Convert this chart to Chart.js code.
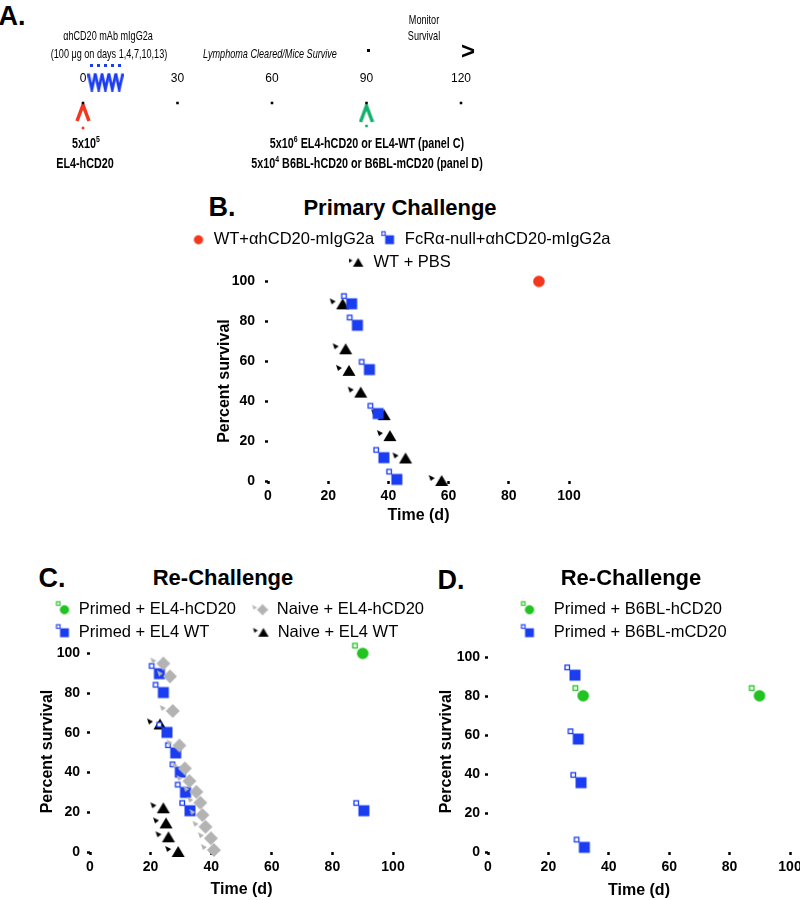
<!DOCTYPE html>
<html>
<head>
<meta charset="utf-8">
<title>Anti-hCD20 mIgG2a: primary challenge and re-challenge survival</title>
<script src="https://cdn.jsdelivr.net/npm/chart.js"></script>
<style>
body { margin: 0; width: 800px; height: 900px; position: relative; overflow: hidden; background: #fff;
  font-family: "Liberation Sans", Arial, sans-serif; color: #000; }
canvas { position: absolute; }
.t { position: absolute; white-space: nowrap; line-height: 1; transform: translate(-50%, -50%); }
.n { font-size: 13px; transform: translate(-50%, -50%) scaleX(0.7); }
.nb { font-size: 14px; font-weight: bold; transform: translate(-50%, -50%) scaleX(0.77); }
.nb sup { font-size: 9px; line-height: 0; }
.p { font-size: 27px; font-weight: bold; }
.h { font-size: 22px; font-weight: bold; }
</style>
</head>
<body>
<canvas id="timeline" width="800" height="100" style="left:0;top:40px"></canvas>
<canvas id="primary" width="460" height="310" style="left:170px;top:225px"></canvas>
<canvas id="rechEL4" width="400" height="305" style="left:38px;top:595px"></canvas>
<canvas id="rechB6" width="400" height="305" style="left:437px;top:595px"></canvas>

<div class="t p" style="left:12px;top:16px">A.</div>
<div class="t n" style="left:108px;top:35px">αhCD20 mAb mIgG2a</div>
<div class="t n" style="left:109px;top:53px">(100 μg on days 1,4,7,10,13)</div>
<div class="t n" style="left:270px;top:53px;font-style:italic">Lymphoma Cleared/Mice Survive</div>
<div class="t n" style="left:424px;top:19px">Monitor</div>
<div class="t n" style="left:424px;top:35px">Survival</div>
<div class="t" style="left:468px;top:51px;font-size:24px;font-weight:900">&gt;</div>
<div class="t nb" style="left:86px;top:143px">5x10<sup>5</sup></div>
<div class="t nb" style="left:85px;top:163px">EL4-hCD20</div>
<div class="t nb" style="left:367px;top:143px">5x10<sup>6</sup> EL4-hCD20 or EL4-WT (panel C)</div>
<div class="t nb" style="left:367px;top:163px">5x10<sup>4</sup> B6BL-hCD20 or B6BL-mCD20 (panel D)</div>

<div class="t p" style="left:222px;top:207px">B.</div>
<div class="t h" style="left:400px;top:208px">Primary Challenge</div>
<div class="t p" style="left:52px;top:578px">C.</div>
<div class="t h" style="left:223px;top:578px">Re-Challenge</div>
<div class="t p" style="left:451px;top:580px">D.</div>
<div class="t h" style="left:631px;top:578px">Re-Challenge</div>

<script>
// A. timeline, in days (injection marks as drawn, squeezed together in the figure)
var timelineTicks = [0, 30, 60, 90, 120];
var injectionMarks = [2.8, 5, 7.1, 9.3, 11.5];
var challengeDay = [0];
var rechallengeDay = [90];
var monitorDay = [90.5];

// B-D share the same axes
var survTicks = [0, 20, 40, 60, 80, 100];

// B. primary challenge (time in days, percent survival)
var bWtMabX = [90];
var bWtMabY = [100];
var bNullMabX = [27.8, 29.7, 33.7, 36.6, 38.5, 42.8];
var bNullMabY = [88.8, 78, 55.8, 33.8, 11.7, 0.8];
var bPbsX = [24.8, 25.8, 26.9, 30.8, 38.6, 40.5, 45.7, 57.7];
var bPbsY = [88.5, 66, 55.2, 44.3, 33, 22.5, 11.3, 0];

// C. re-challenge with EL4
var cPrimedHX = [90];
var cPrimedHY = [100];
var cNaiveHX = [24.2, 26.4, 27.3, 29.5, 31.3, 32.8, 35.1, 36.4, 37.1, 38.1, 39.9, 40.9];
var cNaiveHY = [94.9, 88.4, 71, 53.6, 42.1, 35.7, 30.3, 24.8, 18.6, 12.7, 6.9, 1];
var cPrimedWtX = [22.9, 24.2, 25.4, 28.3, 29.8, 31.5, 33, 90.4];
var cPrimedWtY = [89.8, 80.3, 60.2, 49.9, 40.2, 30, 20.8, 20.8];
var cNaiveWtX = [23.1, 24.2, 25.1, 25.9, 29.1];
var cNaiveWtY = [64.2, 22, 14.4, 7.4, 0];

// D. re-challenge with B6BL
var dPrimedHX = [31.5, 89.9];
var dPrimedHY = [80.2, 80.2];
var dPrimedMX = [28.8, 29.9, 30.8, 31.9];
var dPrimedMY = [90.8, 58, 35.6, 2.4];

var blue = '#1b3df2', red = '#f3361c', green = '#21c321', grey = '#b3b3b3', teal = '#12b06c';

Chart.defaults.font.family = '"Liberation Sans", Arial, sans-serif';
Chart.defaults.color = '#000';

// markers are little bitmaps so the stray bits from the exported figure come along
function mark(shape, color, tag) {
  var c = document.createElement('canvas');
  c.width = 32; c.height = 32;
  var g = c.getContext('2d');
  g.translate(16, 16);
  g.fillStyle = color; g.strokeStyle = color;
  g.beginPath();
  if (shape === 'square') g.rect(-5.5, -5.5, 11, 11);
  if (shape === 'circle') g.arc(0, 0, 5.8, 0, Math.PI * 2);
  if (shape === 'triangle') { g.moveTo(0, -6); g.lineTo(6.5, 5); g.lineTo(-6.5, 5); g.closePath(); }
  if (shape === 'diamond') { g.moveTo(0, -7); g.lineTo(7, 0); g.lineTo(0, 7); g.lineTo(-7, 0); g.closePath(); }
  g.fill();
  if (tag === 'box') {
    g.lineWidth = 1.3; g.fillStyle = '#fff';
    g.fillRect(-10, -10, 4.5, 4.5); g.strokeRect(-10, -10, 4.5, 4.5);
  }
  if (tag === 'wedge') {
    g.beginPath(); g.moveTo(-13, -6); g.lineTo(-7, -3); g.lineTo(-11, 0); g.closePath(); g.fill();
  }
  return c;
}

function chevron(color, up) {
  var c = document.createElement('canvas');
  c.width = up ? 16 : 9; c.height = 20;
  var g = c.getContext('2d');
  g.strokeStyle = color; g.lineWidth = up ? 3.5 : 2.8;
  g.beginPath();
  if (up) { g.moveTo(2, 18); g.lineTo(8, 2); g.lineTo(14, 18); }
  else { g.moveTo(1, 2); g.lineTo(4.5, 18); g.lineTo(8, 2); }
  g.stroke();
  return c;
}

// small solid block (image so it still draws above the plot area)
function blob(color, w, h) {
  var c = document.createElement('canvas');
  c.width = w; c.height = h;
  var g = c.getContext('2d');
  g.fillStyle = color; g.fillRect(0, 0, w, h);
  return c;
}

// legend swatch: a box of the legend width, marker shrunk a little and placed inside it
function keyIcon(img, boxW, at) {
  var c = document.createElement('canvas');
  var w = img.width * 0.8, h = img.height * 0.8;
  c.width = boxW; c.height = img.height;
  c.getContext('2d').drawImage(img, at - w / 2, (img.height - h) / 2, w, h);
  return c;
}

var sqBlue = mark('square', blue, 'box');
var dotRed = mark('circle', red, null);
var dotGreen = mark('circle', green, 'box');
var triBlack = mark('triangle', '#000', 'wedge');
var diaGrey = mark('diamond', grey, 'wedge');

function pts(xs, ys) {
  return xs.map(function (x, i) { return { x: x, y: ys[i] }; });
}

function series(label, xs, ys, img) {
  return { label: label, data: pts(xs, ys), pointStyle: img, pointRadius: 6, clip: false };
}

function useTicks(vals) {
  return function (s) { s.ticks = vals.map(function (v) { return { value: v }; }); };
}

function survivalChart(id, sets, lay) {
  var labels = {
    usePointStyle: true, pointStyleWidth: lay.keyW, padding: 6.5, color: '#000', font: { size: 16.5 },
    generateLabels: function (chart) {
      var items = Chart.defaults.plugins.legend.labels.generateLabels(chart);
      items.forEach(function (it, i) { it.pointStyle = keyIcon(sets[i].pointStyle, lay.keyW, lay.keyAt); });
      return items;
    }
  };
  function grid() { return { drawOnChartArea: false, tickLength: 3, tickWidth: 2.5, color: '#000' }; }
  return new Chart(document.getElementById(id), {
    type: 'scatter',
    data: { datasets: sets },
    options: {
      responsive: false,
      animation: false,
      events: [],
      plugins: {
        tooltip: { enabled: false },
        legend: { align: lay.align, labels: labels }
      },
      scales: {
        x: {
          min: 0, max: 100,
          afterBuildTicks: useTicks(survTicks),
          afterFit: function (s) { s.height = lay.xH; s.paddingRight = lay.padR; },
          grid: grid(), border: { display: false },
          ticks: { padding: 4, color: '#000', font: { size: 14, weight: 'bold' } },
          title: { display: true, text: 'Time (d)', color: '#000', font: { size: 16, weight: 'bold' },
                   padding: { top: 0, bottom: lay.xTitle } }
        },
        y: {
          // a little headroom above 100 leaves the gap under the legend
          min: 0, max: lay.yMax,
          afterBuildTicks: useTicks(survTicks),
          afterFit: function (s) { s.width = lay.yW; },
          grid: grid(), border: { display: false },
          ticks: { padding: lay.yPad, color: '#000', font: { size: 14, weight: 'bold' } },
          title: { display: true, text: 'Percent survival', color: '#000', font: { size: 16, weight: 'bold' },
                   padding: { top: lay.yTitle, bottom: 0 } }
        }
      }
    }
  });
}

// A. timeline
function lane(days, level, style, color, r) {
  return {
    data: days.map(function (d) { return { x: d, y: level }; }),
    pointStyle: style, pointRadius: r || 6,
    backgroundColor: color, borderColor: color, borderWidth: 0, clip: false
  };
}

new Chart(document.getElementById('timeline'), {
  type: 'scatter',
  data: {
    datasets: [
      lane(timelineTicks, 37, 'rect', '#000', 1.8),
      lane(challengeDay, 27, chevron(red, true)),
      lane(challengeDay, 12, 'rect', red, 1.8),
      lane(rechallengeDay, 26, chevron(teal, true)),
      lane(rechallengeDay, 14, 'rect', teal, 1.8),
      lane(injectionMarks, 58.5, chevron(blue, false)),
      // big radius only so Chart.js does not drop these marks above the plot area
      lane(injectionMarks, 75, blob(blue, 3, 3), blue, 40),
      lane(monitorDay, 90, blob('#000', 3, 3), '#000', 40)
    ]
  },
  options: {
    responsive: false,
    animation: false,
    events: [],
    layout: { autoPadding: false, padding: { left: 83, right: 339, top: 26, bottom: 0 } },
    plugins: { legend: { display: false }, tooltip: { enabled: false } },
    scales: {
      x: {
        position: 'top', min: 0, max: 120,
        afterBuildTicks: useTicks(timelineTicks),
        afterFit: function (s) { s.height = 20; },
        grid: { display: false, drawTicks: false }, border: { display: false },
        ticks: { padding: 0, color: '#000', font: { size: 12 } }
      },
      y: { display: false, min: 0, max: 54 }
    }
  }
});

survivalChart('primary', [
  series('WT+αhCD20-mIgG2a', bWtMabX, bWtMabY, dotRed),
  series('FcRα-null+αhCD20-mIgG2a', bNullMabX, bNullMabY, sqBlue),
  series('WT + PBS', bPbsX, bPbsY, triBlack)
], { align: 'center', keyW: 16, keyAt: 9, xH: 54, padR: 61, yW: 98, yMax: 100.2, yPad: 10, xTitle: 9.4, yTitle: 45.4 });

survivalChart('rechEL4', [
  series('Primed + EL4-hCD20', cPrimedHX, cPrimedHY, dotGreen),
  series('Naive + EL4-hCD20', cNaiveHX, cNaiveHY, diaGrey),
  series('Primed + EL4 WT      ', cPrimedWtX, cPrimedWtY, sqBlue),
  series('Naive + EL4 WT', cNaiveWtX, cNaiveWtY, triBlack)
], { align: 'start', keyW: 26, keyAt: 20, xH: 48, padR: 45, yW: 52, yMax: 101.2, yPad: 7, xTitle: 0.4, yTitle: 0.4 });

survivalChart('rechB6', [
  series('Primed + B6BL-hCD20', dPrimedHX, dPrimedHY, dotGreen),
  series('Primed + B6BL-mCD20', dPrimedMX, dPrimedMY, sqBlue)
], { align: 'start', keyW: 102, keyAt: 86, xH: 48, padR: 47, yW: 51, yMax: 103.2, yPad: 5, xTitle: 0, yTitle: 0.4 });
</script>
</body>
</html>
